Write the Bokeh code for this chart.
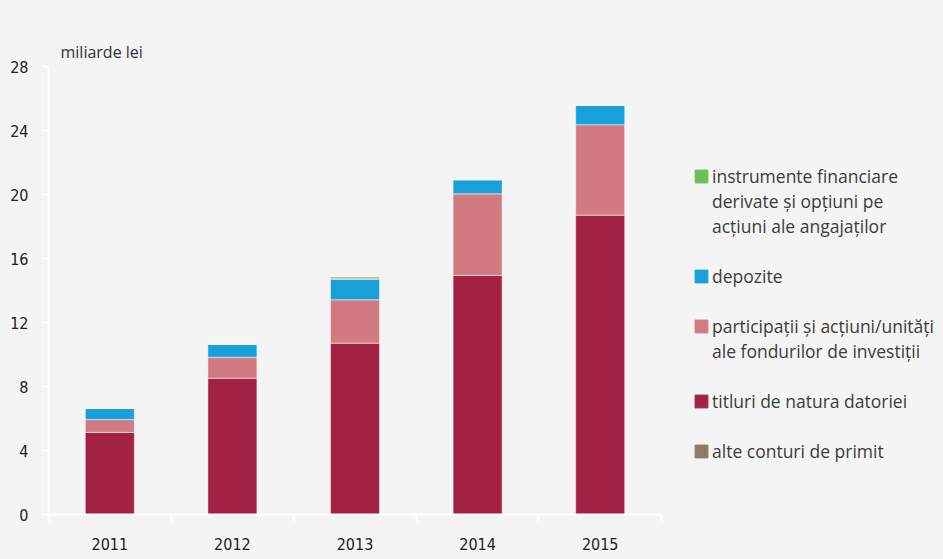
from bokeh.plotting import figure
from bokeh.layouts import row
from bokeh.models import Range1d, FixedTicker, Legend, LegendItem, ColumnDataSource, LinearAxis
from bokeh.embed import file_html
from bokeh.resources import INLINE

years = ["2011", "2012", "2013", "2014", "2015"]
titluri = [5.13, 8.52, 10.71, 14.94, 18.71]
participatii = [0.80, 1.31, 2.71, 5.10, 5.65]
depozite = [0.70, 0.81, 1.27, 0.88, 1.20]
alte = [0.0, 0.0, 0.08, 0.0, 0.0]
instrumente = [0.0, 0.0, 0.08, 0.02, 0.02]
y_ticks = [0, 4, 8, 12, 16, 20, 24, 28]

series = ["titluri", "participatii", "depozite", "alte", "instrumente"]
colors = ["#a32244", "#d17a82", "#17a0d9", "#8b7b68", "#6bbf59"]
# legend rows, top to bottom: (series or None, text line); blank rows separate entries
legend_rows = [
    ("instrumente", "instrumente financiare"),
    (None, "derivate și opțiuni pe"),
    (None, "acțiuni ale angajaților"),
    (None, ""),
    ("depozite", "depozite"),
    (None, ""),
    ("participatii", "participații și acțiuni/unități"),
    (None, "ale fondurilor de investiții"),
    (None, ""),
    ("titluri", "titluri de natura datoriei"),
    (None, ""),
    ("alte", "alte conturi de primit"),
]

xs = [i + 0.5 for i in range(len(years))]
src = ColumnDataSource(dict(x=xs, titluri=titluri, participatii=participatii,
                            depozite=depozite, alte=alte, instrumente=instrumente))

BG = "#f4f4f4"
W, H = 943, 559
W1 = 672
LEFT, RIGHT, TOP, BOTTOM = 48, 11, 66, 45
p = figure(width=W1, height=H, output_backend="svg", toolbar_location=None,
           x_range=Range1d(0, len(years)), y_range=Range1d(0, 28),
           x_axis_type=None, y_axis_type=None,
           min_border_left=LEFT, min_border_right=RIGHT, min_border_top=TOP, min_border_bottom=BOTTOM)
p.background_fill_color = BG
p.border_fill_color = BG
p.outline_line_color = None
p.grid.visible = False

renders = p.vbar_stack(series, x="x", width=0.4, source=src, color=colors,
                       line_color="white", line_alpha=0.5, line_width=1)

TICK_FONT = "DejaVu Sans Condensed"

xaxis = LinearAxis(ticker=FixedTicker(ticks=xs, minor_ticks=list(range(len(years) + 1))))
xaxis.major_label_overrides = {x: y for x, y in zip(xs, years)}
xaxis.major_tick_out = 0
xaxis.major_tick_in = 0
xaxis.minor_tick_out = 7
xaxis.minor_tick_in = 0
xaxis.minor_tick_line_color = "white"
xaxis.minor_tick_line_width = 2
xaxis.axis_line_color = "white"
xaxis.axis_line_width = 2
xaxis.major_label_text_font = TICK_FONT
xaxis.major_label_text_font_size = "16px"
xaxis.major_label_text_color = "#222222"
xaxis.major_label_standoff = 16
p.add_layout(xaxis, "below")

yaxis = LinearAxis(ticker=FixedTicker(ticks=y_ticks))
yaxis.major_tick_out = 6
yaxis.major_tick_in = 0
yaxis.minor_tick_line_color = None
yaxis.major_tick_line_color = "white"
yaxis.major_tick_line_width = 2
yaxis.axis_line_color = "white"
yaxis.axis_line_width = 2
yaxis.major_label_text_font = TICK_FONT
yaxis.major_label_text_font_size = "16px"
yaxis.major_label_text_color = "#222222"
yaxis.major_label_standoff = 14
p.add_layout(yaxis, "left")

p.title.text = "miliarde lei"
p.title.align = "left"
p.title.offset = 12
p.title.text_font = "Open Sans"
p.title.text_font_style = "normal"
p.title.text_font_size = "16px"
p.title.text_color = "#333333"
p.title.standoff = 7

# legend panel: a second, axis-free figure holding hidden copies of the series and the legend
pl = figure(width=W - W1, height=H, output_backend="svg", toolbar_location=None,
            x_axis_type=None, y_axis_type=None,
            min_border_left=0, min_border_right=0, min_border_top=TOP, min_border_bottom=BOTTOM)
pl.background_fill_color = BG
pl.border_fill_color = BG
pl.outline_line_color = None
pl.grid.visible = False
hidden = pl.vbar_stack(series, x="x", width=0.4, source=src, color=colors, visible=False)
swatch = dict(zip(series, hidden))
blank = pl.vbar(x=[], top=[], width=0.4, fill_alpha=0, line_alpha=0)

items = [LegendItem(label=txt, renderers=[swatch[s] if s else blank]) for s, txt in legend_rows]
legend = Legend(items=items, location=(21, 51), orientation="vertical")
legend.label_text_font = "Open Sans"
legend.label_text_font_size = "17.5px"
legend.label_text_color = "#3c3c3c"
legend.glyph_width = 16
legend.glyph_height = 16
legend.label_height = 25
legend.label_standoff = 3
legend.spacing = 0
legend.padding = 0
legend.margin = 0
legend.border_line_color = None
legend.background_fill_alpha = 0
legend.inactive_fill_alpha = 0
pl.add_layout(legend)

layout = row(p, pl, spacing=0, styles={"background-color": BG})
open("out.html", "w").write(file_html(layout, INLINE))
